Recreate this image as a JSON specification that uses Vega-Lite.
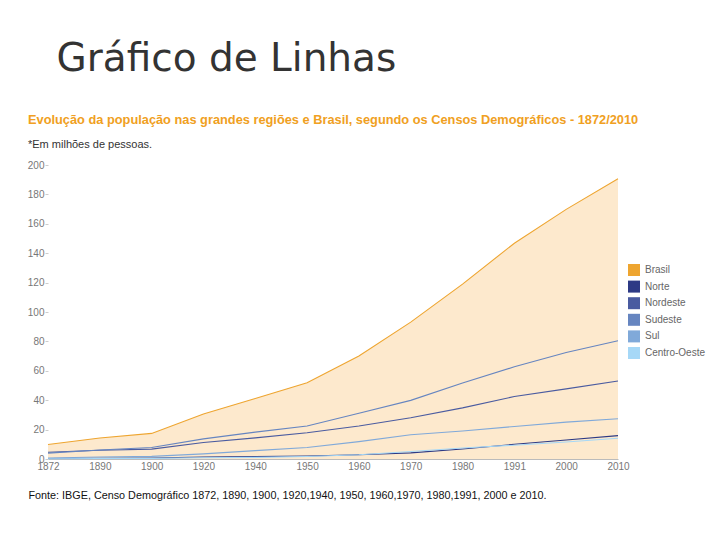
{
  "$schema": "https://vega.github.io/schema/vega-lite/v6.json",
  "width": 570,
  "height": 294,
  "autosize": {"type": "none"},
  "padding": {"left": 48, "top": 165, "right": 102, "bottom": 81},
  "background": "white",
  "config": {
    "view": {"stroke": null},
    "font": "Liberation Sans"
  },
  "title": {
    "text": "Evolução da população nas grandes regiões e Brasil, segundo os Censos Demográficos - 1872/2010",
    "subtitle": "*Em milhões de pessoas.",
    "anchor": "start",
    "frame": "group",
    "dx": -20,
    "offset": -111,
    "fontSize": 12.8,
    "fontWeight": "bold",
    "color": "#f0a022",
    "subtitleFontSize": 11,
    "subtitleColor": "#333333",
    "subtitlePadding": 12
  },
  "data": {
    "values": [
      {"ano": "1872", "regiao": "Brasil", "pop": 9.9},
      {"ano": "1890", "regiao": "Brasil", "pop": 14.3},
      {"ano": "1900", "regiao": "Brasil", "pop": 17.4},
      {"ano": "1920", "regiao": "Brasil", "pop": 30.6},
      {"ano": "1940", "regiao": "Brasil", "pop": 41.2},
      {"ano": "1950", "regiao": "Brasil", "pop": 51.9},
      {"ano": "1960", "regiao": "Brasil", "pop": 70.1},
      {"ano": "1970", "regiao": "Brasil", "pop": 93.1},
      {"ano": "1980", "regiao": "Brasil", "pop": 119.0},
      {"ano": "1991", "regiao": "Brasil", "pop": 146.8},
      {"ano": "2000", "regiao": "Brasil", "pop": 169.8},
      {"ano": "2010", "regiao": "Brasil", "pop": 190.7},
      {"ano": "1872", "regiao": "Norte", "pop": 0.3},
      {"ano": "1890", "regiao": "Norte", "pop": 0.5},
      {"ano": "1900", "regiao": "Norte", "pop": 0.7},
      {"ano": "1920", "regiao": "Norte", "pop": 1.4},
      {"ano": "1940", "regiao": "Norte", "pop": 1.6},
      {"ano": "1950", "regiao": "Norte", "pop": 2.0},
      {"ano": "1960", "regiao": "Norte", "pop": 2.9},
      {"ano": "1970", "regiao": "Norte", "pop": 4.2},
      {"ano": "1980", "regiao": "Norte", "pop": 6.8},
      {"ano": "1991", "regiao": "Norte", "pop": 10.0},
      {"ano": "2000", "regiao": "Norte", "pop": 12.9},
      {"ano": "2010", "regiao": "Norte", "pop": 15.9},
      {"ano": "1872", "regiao": "Nordeste", "pop": 4.6},
      {"ano": "1890", "regiao": "Nordeste", "pop": 6.0},
      {"ano": "1900", "regiao": "Nordeste", "pop": 6.7},
      {"ano": "1920", "regiao": "Nordeste", "pop": 11.2},
      {"ano": "1940", "regiao": "Nordeste", "pop": 14.4},
      {"ano": "1950", "regiao": "Nordeste", "pop": 17.9},
      {"ano": "1960", "regiao": "Nordeste", "pop": 22.4},
      {"ano": "1970", "regiao": "Nordeste", "pop": 28.1},
      {"ano": "1980", "regiao": "Nordeste", "pop": 34.8},
      {"ano": "1991", "regiao": "Nordeste", "pop": 42.5},
      {"ano": "2000", "regiao": "Nordeste", "pop": 47.7},
      {"ano": "2010", "regiao": "Nordeste", "pop": 53.1},
      {"ano": "1872", "regiao": "Sudeste", "pop": 4.0},
      {"ano": "1890", "regiao": "Sudeste", "pop": 6.1},
      {"ano": "1900", "regiao": "Sudeste", "pop": 7.8},
      {"ano": "1920", "regiao": "Sudeste", "pop": 13.7},
      {"ano": "1940", "regiao": "Sudeste", "pop": 18.3},
      {"ano": "1950", "regiao": "Sudeste", "pop": 22.5},
      {"ano": "1960", "regiao": "Sudeste", "pop": 31.1},
      {"ano": "1970", "regiao": "Sudeste", "pop": 39.9},
      {"ano": "1980", "regiao": "Sudeste", "pop": 51.7},
      {"ano": "1991", "regiao": "Sudeste", "pop": 62.7},
      {"ano": "2000", "regiao": "Sudeste", "pop": 72.4},
      {"ano": "2010", "regiao": "Sudeste", "pop": 80.4},
      {"ano": "1872", "regiao": "Sul", "pop": 0.7},
      {"ano": "1890", "regiao": "Sul", "pop": 1.4},
      {"ano": "1900", "regiao": "Sul", "pop": 1.8},
      {"ano": "1920", "regiao": "Sul", "pop": 3.5},
      {"ano": "1940", "regiao": "Sul", "pop": 5.7},
      {"ano": "1950", "regiao": "Sul", "pop": 7.8},
      {"ano": "1960", "regiao": "Sul", "pop": 11.8},
      {"ano": "1970", "regiao": "Sul", "pop": 16.5},
      {"ano": "1980", "regiao": "Sul", "pop": 19.0},
      {"ano": "1991", "regiao": "Sul", "pop": 22.1},
      {"ano": "2000", "regiao": "Sul", "pop": 25.1},
      {"ano": "2010", "regiao": "Sul", "pop": 27.4},
      {"ano": "1872", "regiao": "Centro-Oeste", "pop": 0.2},
      {"ano": "1890", "regiao": "Centro-Oeste", "pop": 0.3},
      {"ano": "1900", "regiao": "Centro-Oeste", "pop": 0.4},
      {"ano": "1920", "regiao": "Centro-Oeste", "pop": 0.8},
      {"ano": "1940", "regiao": "Centro-Oeste", "pop": 1.1},
      {"ano": "1950", "regiao": "Centro-Oeste", "pop": 1.7},
      {"ano": "1960", "regiao": "Centro-Oeste", "pop": 2.9},
      {"ano": "1970", "regiao": "Centro-Oeste", "pop": 5.1},
      {"ano": "1980", "regiao": "Centro-Oeste", "pop": 7.5},
      {"ano": "1991", "regiao": "Centro-Oeste", "pop": 9.4},
      {"ano": "2000", "regiao": "Centro-Oeste", "pop": 11.6},
      {"ano": "2010", "regiao": "Centro-Oeste", "pop": 14.1}
    ]
  },
  "encoding": {
    "x": {
      "field": "ano",
      "type": "ordinal",
      "scale": {"type": "point", "padding": 0},
      "sort": null,
      "axis": {
        "title": "Fonte: IBGE, Censo Demográfico 1872, 1890, 1900, 1920,1940, 1950, 1960,1970, 1980,1991, 2000 e 2010.",
        "titleX": -20,
        "titleY": 36,
        "titleAlign": "left",
        "titleAnchor": "start",
        "titleBaseline": "middle",
        "titleFontSize": 10.8,
        "titleFontWeight": "normal",
        "titleColor": "#111111",
        "labelAngle": 0,
        "labelFontSize": 10,
        "labelColor": "#777777",
        "labelPadding": 2,
        "ticks": false,
        "domain": true,
        "domainColor": "#bbbbbb",
        "grid": false
      }
    },
    "y": {
      "field": "pop",
      "type": "quantitative",
      "scale": {"domain": [0, 200], "nice": false},
      "axis": {
        "title": "Gráfico de Linhas",
        "titleAngle": 0,
        "titleAlign": "left",
        "titleBaseline": "alphabetic",
        "titleX": 8,
        "titleY": -95,
        "titleFont": "DejaVu Sans",
        "titleFontSize": 39,
        "titleFontWeight": "normal",
        "titleColor": "#333333",
        "values": [0, 20, 40, 60, 80, 100, 120, 140, 160, 180, 200],
        "labelFontSize": 10,
        "labelColor": "#777777",
        "labelPadding": 1,
        "tickSize": 3,
        "tickColor": "#cccccc",
        "domain": false,
        "grid": false
      }
    }
  },
  "layer": [
    {
      "transform": [{"filter": "datum.regiao === 'Brasil'"}],
      "mark": {"type": "area", "fill": "#fde9cd", "opacity": 1}
    },
    {
      "mark": {"type": "line", "strokeWidth": 1.1},
      "encoding": {
        "color": {
          "field": "regiao",
          "type": "nominal",
          "scale": {
            "domain": ["Brasil", "Norte", "Nordeste", "Sudeste", "Sul", "Centro-Oeste"],
            "range": ["#eea530", "#2d3a85", "#4a5ba0", "#6685c0", "#80a9d9", "#a6d8f7"]
          },
          "legend": {
            "title": null,
            "orient": "none",
            "legendX": 580,
            "legendY": 99,
            "symbolType": "square",
            "symbolSize": 144,
            "rowPadding": 4.6,
            "labelFontSize": 10,
            "labelColor": "#666666",
            "labelOffset": 5,
            "encode": {
              "symbols": {
                "update": {
                  "fill": {"scale": "color", "field": "value"},
                  "fillOpacity": {"value": 1},
                  "strokeWidth": {"value": 0}
                }
              }
            }
          }
        }
      }
    }
  ]
}
